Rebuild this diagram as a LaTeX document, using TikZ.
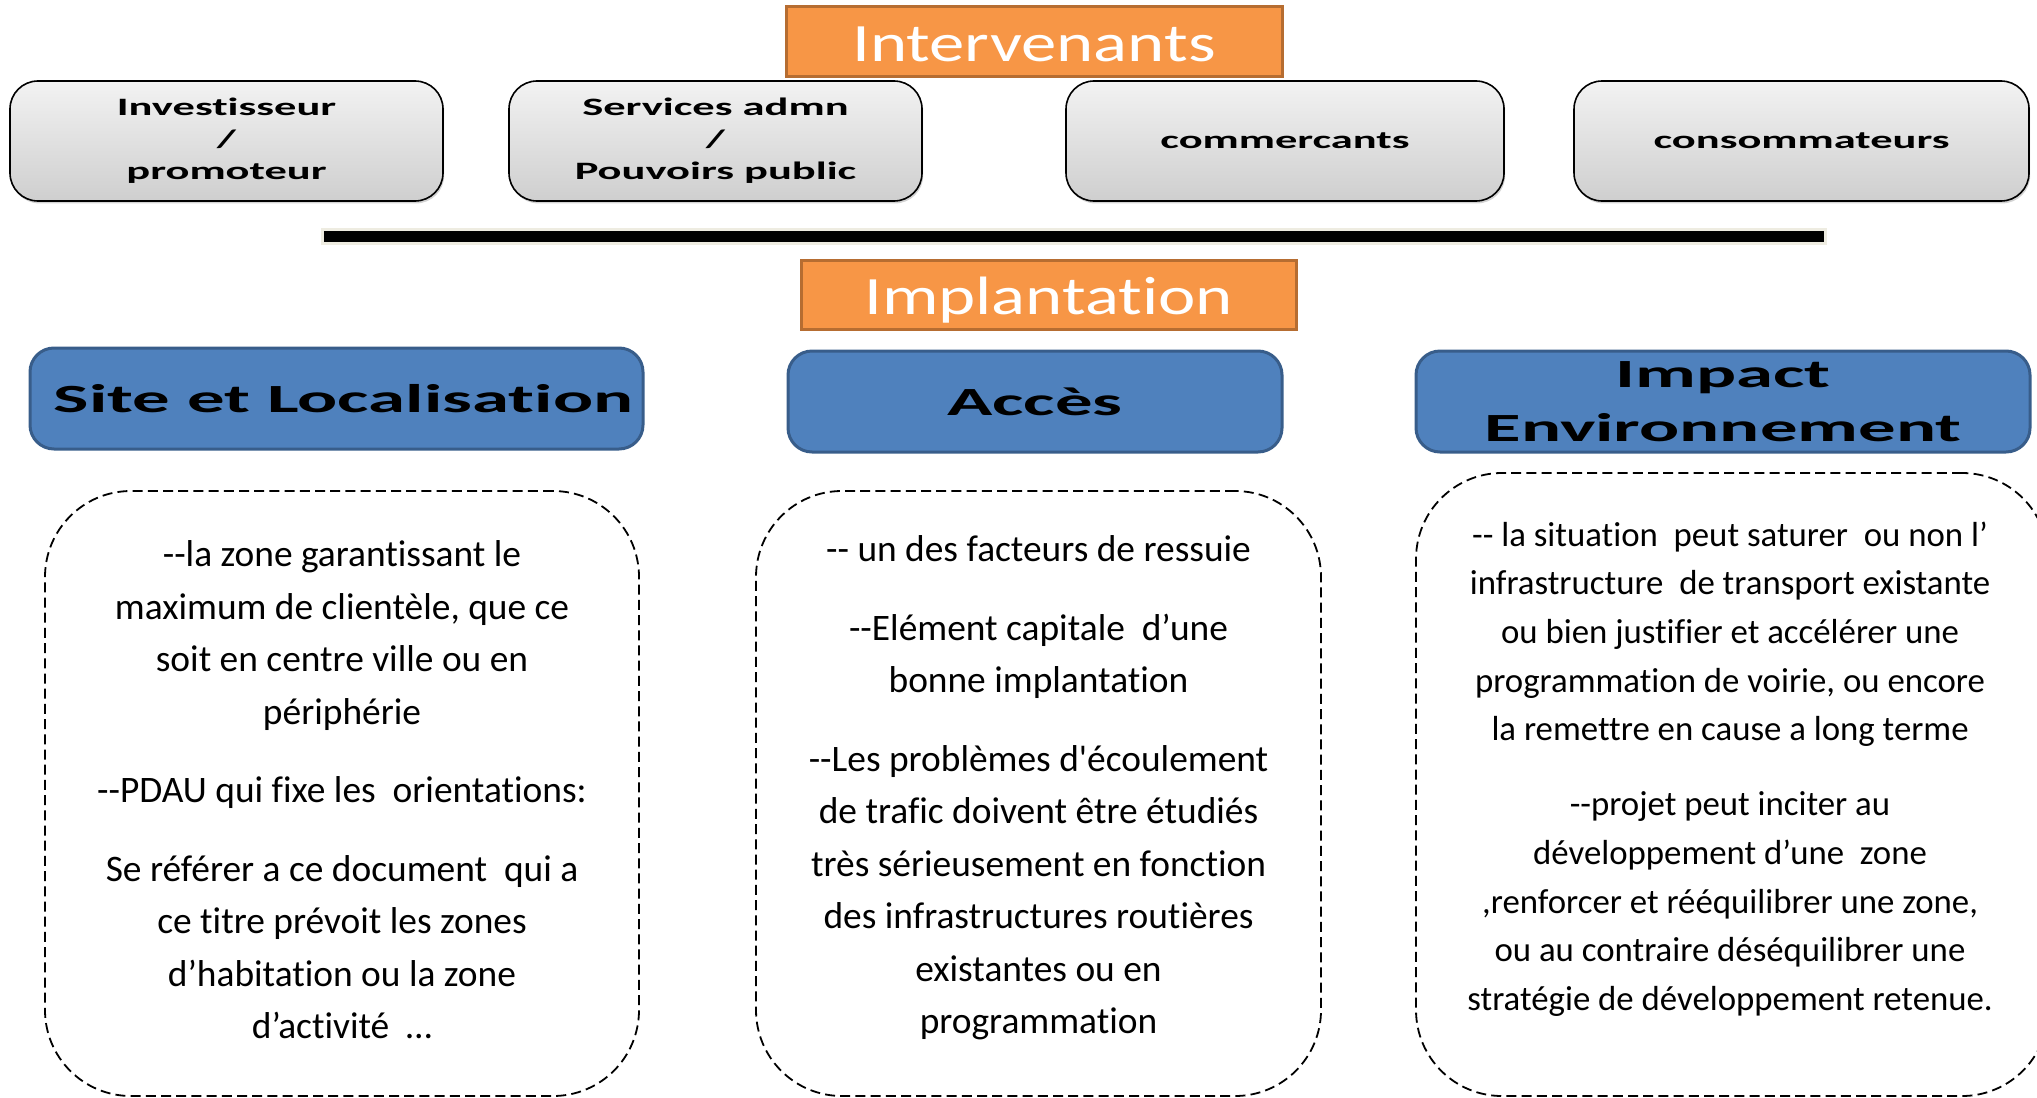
\documentclass[tikz,border=0pt]{standalone}
\usepackage{fontspec}
\setmainfont{Carlito}[Ligatures={TeXOff,NoCommon}]
\newfontfamily\titrefont[FakeStretch=1.31,Ligatures=NoCommon]{Carlito}
\newfontfamily\acteurfont[FakeStretch=1.78,Ligatures=NoCommon]{Carlito}
\newfontfamily\themefont[FakeStretch=1.87,Ligatures=NoCommon]{Carlito}
\usetikzlibrary{shadows}

\definecolor{orangeFond}{HTML}{F79646}
\definecolor{orangeBord}{HTML}{B66D31}
\definecolor{bleuFond}{HTML}{4F81BD}
\definecolor{bleuBord}{HTML}{385D8A}
\definecolor{beige}{HTML}{EEECE1}

\def\pas{26.25}
\def\pasImpact{24.35}

\begin{document}
\begin{tikzpicture}[x=0.5pt, y=-0.5pt,
    titre/.style={draw=orangeBord, fill=orangeFond, line width=1.5pt, text=white,
      font=\titrefont\fontsize{27}{30}\selectfont, minimum width=248pt,
      minimum height=35pt, inner sep=0pt, text height=20pt, text depth=0pt},
    acteur/.style={draw=black, line width=0.8pt, rounded corners=14pt,
      top color=gray!10, bottom color=gray!38, align=center,
      drop shadow={shadow xshift=0.6pt, shadow yshift=-1.2pt, opacity=0.35},
      font=\acteurfont\bfseries\fontsize{12.5}{16}\selectfont,
      minimum height=60pt, inner sep=0pt},
    theme/.style={draw=bleuBord, fill=bleuFond, line width=1.5pt, rounded corners=12pt,
      align=center, font=\themefont\bfseries\fontsize{20}{27}\selectfont,
      minimum height=50.5pt, inner sep=0pt},
    cadre/.style={draw, line width=0.9pt, dash pattern=on 5pt off 2.6pt,
      rounded corners=43pt, inner sep=0pt},
    texte/.style={align=center, inner sep=0pt}
  ]
  \useasboundingbox (0,0) rectangle (2037,1097);

  % intervenants
  \node[titre] (intervenants) at (1034,41.5) {Intervenants};
  \node[acteur, minimum width=216.5pt] (investisseur) at (226.5,141) {Investisseur\\/\\promoteur};
  \node[acteur, minimum width=206.5pt] (services) at (715.5,141) {Services admn\\/\\Pouvoirs public};
  \node[acteur, minimum width=219pt] (commercants) at (1285,141) {commercants};
  \node[acteur, minimum width=227.5pt] (consommateurs) at (1801.5,141) {consommateurs};

  \node[fill=black, draw=beige, line width=1.5pt, minimum width=751.5pt,
    minimum height=7pt, inner sep=0pt] (barre) at (1073.5,236) {};

  % implantation
  \node[titre, minimum width=247.5pt, minimum height=34.5pt] (implantation) at (1048.5,294.5) {Implantation};
  \node[theme, minimum width=306.5pt] (site) at (336.5,398.5) {\hspace*{7pt}Site et Localisation};
  \node[theme, minimum width=247pt] (acces) at (1035,401.5) {Accès};
  \node[theme, minimum width=307pt] (impact) at (1723,401.5) {Impact\\Environnement};

  \node[cadre, minimum width=297pt, minimum height=302.5pt] (siteCadre) at (342,793.5) {};
  \node[cadre, minimum width=282.5pt, minimum height=302.5pt] (accesCadre) at (1038.5,793.5) {};
  \node[cadre, minimum width=316pt, minimum height=311.5pt] (impactCadre) at (1732,784.5) {};

  \node[texte, font=\fontsize{18.7}{\pas}\selectfont] (siteTxt) at (342,790)
    {--la zone garantissant le\\maximum de clientèle, que ce\\soit en centre ville ou en\\périphérie\\[13pt]
     --PDAU qui fixe les\ \ orientations:\\[13pt]
     Se référer a ce document\ \ qui a\\ce titre prévoit les zones\\d’habitation ou la zone\\d’activité\ \ …};
  \node[texte, font=\fontsize{18.7}{\pas}\selectfont] (accesTxt) at (1038.5,788)
    {-- un des facteurs de ressuie\\[13pt]
     --Elément capitale\ \ d’une\\bonne implantation\\[13pt]
     --Les problèmes d'écoulement\\de trafic doivent être étudiés\\très sérieusement en fonction\\des infrastructures routières\\existantes ou en\\programmation};
  \node[texte, font=\fontsize{17.4}{\pasImpact}\selectfont] (impactTxt) at (1730,769)
    {-- la situation\ \ peut saturer\ \ ou non l’\\infrastructure\ \ de transport existante\\ou bien justifier et accélérer une\\programmation de voirie, ou encore\\la remettre en cause a long terme\\[13pt]
     --projet peut inciter au\\développement d’une\ \ zone\\,renforcer et rééquilibrer une zone,\\ou au contraire déséquilibrer une\\stratégie de développement retenue.};
\end{tikzpicture}
\end{document}
